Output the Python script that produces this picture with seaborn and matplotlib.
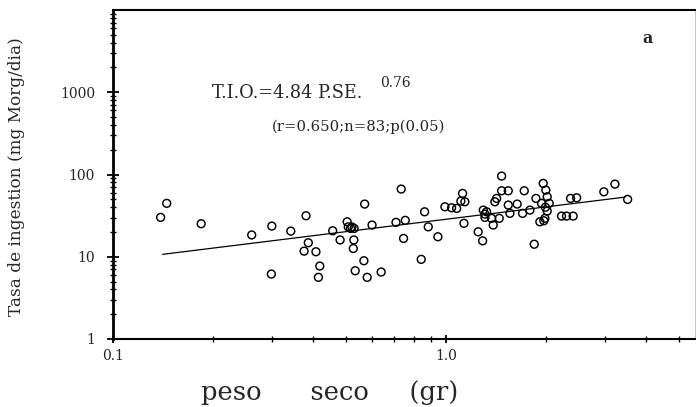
import numpy as np
import pandas as pd
import seaborn as sns
import matplotlib
matplotlib.use("Agg")
import matplotlib.pyplot as plt
from matplotlib.ticker import LogLocator, FixedLocator, FixedFormatter, NullFormatter

# peso seco (gr) vs tasa de ingestion (mg Morg/dia)
peso_seco = [
    0.145, 0.139, 0.184, 0.261, 0.300, 0.342, 0.299, 0.380, 0.386, 0.375,
    0.407, 0.418, 0.414, 0.457, 0.481, 0.505, 0.509, 0.517, 0.530, 0.529,
    0.527, 0.570, 0.600, 0.567, 0.534, 0.580, 0.639, 0.734, 0.708, 0.755,
    0.746, 0.843, 0.863, 0.885, 0.946, 0.993, 1.040, 1.077, 1.122, 1.109,
    1.140, 1.133, 1.250, 1.289, 1.295, 1.310, 1.325, 1.372, 1.387, 1.446,
    1.470, 1.470, 1.539, 1.403, 1.420, 1.539, 1.557, 1.637, 1.699, 1.788,
    1.719, 1.864, 1.842, 1.960, 1.996, 2.015, 1.938, 2.043, 2.015, 1.983,
    1.915, 1.969, 2.225, 2.303, 2.411, 2.368, 2.470, 2.981, 3.219, 3.514,
    0.522, 1.310, 1.990,
]
tasa = [
    44.6, 30.1, 25.2, 18.4, 23.6, 20.5, 6.16, 31.5, 14.8, 11.7,
    11.5, 7.71, 5.62, 20.7, 16.0, 26.6, 23.1, 22.1, 22.1, 16.0,
    12.6, 43.7, 24.3, 8.94, 6.76, 5.62, 6.52, 66.5, 26.2, 27.7,
    16.7, 9.30, 35.2, 23.1, 17.5, 40.5, 39.4, 38.7, 58.9, 47.5,
    46.6, 25.5, 20.1, 15.6, 36.9, 30.1, 35.2, 29.3, 24.3, 29.3,
    95.7, 63.4, 63.4, 46.6, 51.2, 42.5, 33.7, 43.7, 33.7, 36.9,
    63.4, 51.2, 14.2, 78.0, 64.6, 53.6, 44.6, 44.6, 35.9, 29.3,
    26.6, 27.4, 31.2, 31.2, 31.2, 51.2, 52.1, 61.6, 76.4, 49.8,
    23.0, 33.0, 40.0,
]

# fitted line as drawn in the original
fit_x = [0.141, 3.45]
fit_y = [10.7, 53.1]

df = pd.DataFrame({"peso": peso_seco, "tasa": tasa})
fit = pd.DataFrame({"peso": fit_x, "tasa": fit_y})

sns.set_style("ticks")
plt.rcParams["font.family"] = ["DejaVu Serif", "Liberation Serif"]

fig = plt.figure(figsize=(6.96, 4.07), dpi=100)
ax = fig.add_axes([113 / 696, 68 / 407, 582 / 696, 329 / 407])

sns.scatterplot(data=df, x="peso", y="tasa", ax=ax, marker="o", s=32,
                facecolors="none", edgecolors="black", linewidth=1.05,
                legend=False, zorder=3)
sns.lineplot(data=fit, x="peso", y="tasa", ax=ax, color="black",
             linewidth=0.9, legend=False)

ax.set_xscale("log")
ax.set_yscale("log")
ax.set_xlim(0.1, 5.6)
ax.set_ylim(1, 10000)

ax.xaxis.set_major_locator(FixedLocator([0.1, 1.0]))
ax.xaxis.set_major_formatter(FixedFormatter(["0.1", "1.0"]))
ax.xaxis.set_minor_locator(LogLocator(base=10, subs=np.arange(2, 10)))
ax.xaxis.set_minor_formatter(NullFormatter())
ax.yaxis.set_major_locator(FixedLocator([1, 10, 100, 1000]))
ax.yaxis.set_major_formatter(FixedFormatter(["1", "10", "100", "1000"]))
ax.yaxis.set_minor_locator(LogLocator(base=10, subs=np.arange(2, 10)))
ax.yaxis.set_minor_formatter(NullFormatter())

ax.tick_params(axis="both", which="major", direction="inout", length=8,
               width=1.3, color="black", labelsize=10)
ax.tick_params(axis="y", which="major", pad=9)
ax.tick_params(axis="x", which="major", length=6, pad=4)
ax.tick_params(axis="both", which="minor", direction="inout", length=4,
               width=1.0, color="black")

for side, lw in [("left", 2.0), ("bottom", 1.5), ("top", 1.5), ("right", 0.6)]:
    ax.spines[side].set_visible(True)
    ax.spines[side].set_linewidth(lw)
    ax.spines[side].set_color("black" if side != "right" else "#bbbbbb")

ax.set_xlabel("peso      seco     (gr)", fontsize=18.5)
ax.xaxis.set_label_coords(0.372, -0.125)
ax.set_ylabel("Tasa de ingestion (mg Morg/dia)", fontsize=12.2)
ax.yaxis.set_label_coords(-0.152, 0.494)

ax.text(0.17, 0.748, "T.I.O.=4.84 P.SE.", transform=ax.transAxes,
        fontsize=12.8, va="center", ha="left")
ax.text(0.459, 0.778, "0.76", transform=ax.transAxes,
        fontsize=10, va="center", ha="left")
ax.text(0.273, 0.644, "(r=0.650;n=83;p(0.05)", transform=ax.transAxes,
        fontsize=10.7, va="center", ha="left")
ax.text(0.919, 0.912, "a", transform=ax.transAxes, fontsize=11.5,
        fontweight="bold", va="center", ha="center")

fig.savefig("out.png", dpi=100)
